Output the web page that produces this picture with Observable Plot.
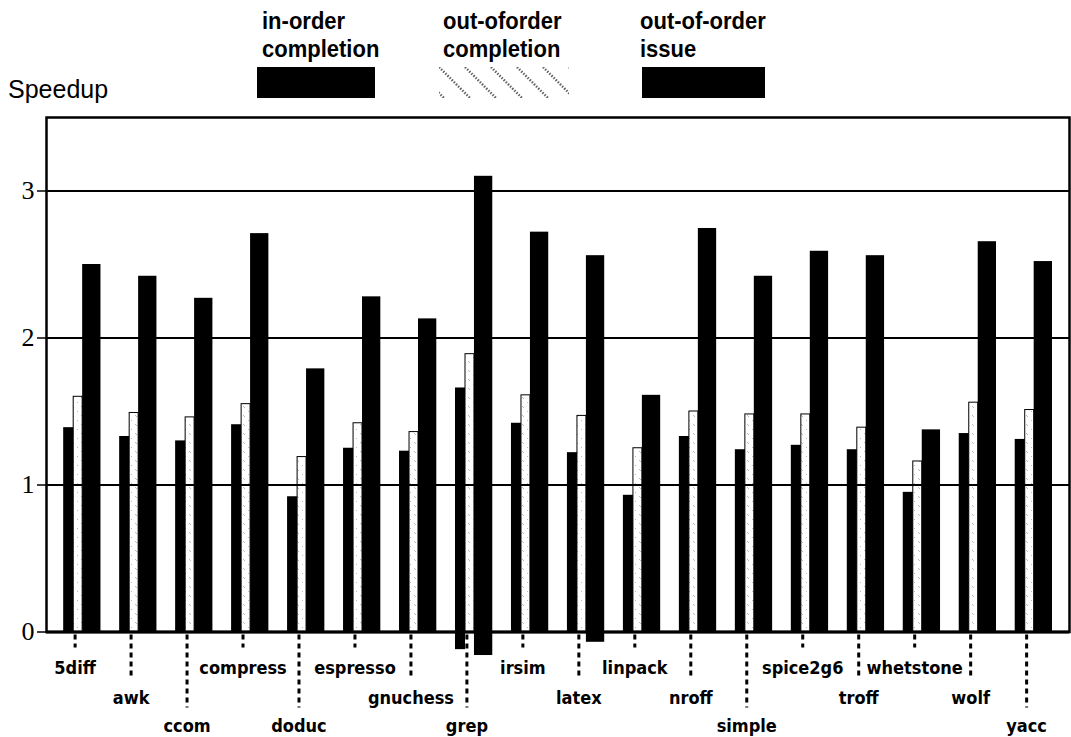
<!DOCTYPE html>
<html>
<head>
<meta charset="utf-8">
<script src="https://cdn.jsdelivr.net/npm/d3@7"></script>
<script src="https://cdn.jsdelivr.net/npm/@observablehq/plot@0.6"></script>
<style>
  html, body { margin: 0; padding: 0; background: white; }
  #wrap { position: relative; width: 1071px; height: 737px; overflow: hidden; }
  #header { position: relative; width: 1071px; height: 100px; font-family: "Liberation Sans", Arial, sans-serif; color: black; }
  .lab { position: absolute; font-weight: bold; font-size: 22px; line-height: 25px; white-space: nowrap; transform: scaleY(1.1); transform-origin: 0 0; }
  .sw { position: absolute; top: 67px; height: 31px; }
  #speedup { position: absolute; left: 8px; top: 77px; font-size: 25px; line-height: 24px; }
  #chart svg { display: block; }
</style>
</head>
<body>
<div id="wrap">
  <div id="header"></div>
  <div id="chart"></div>
</div>
<script>
// ---- data ----
const benchmarks = ["5diff","awk","ccom","compress","doduc","espresso","gnuchess","grep","irsim","latex","linpack","nroff","simple","spice2g6","troff","whetstone","wolf","yacc"];
const labelRow = [0,1,2,0,2,0,1,2,0,1,0,1,2,0,1,0,1,2];
const inOrderCompletion    = [1.39,1.33,1.30,1.41,0.92,1.25,1.23,1.66,1.42,1.22,0.93,1.33,1.24,1.27,1.24,0.95,1.35,1.31];
const outOfOrderCompletion = [1.60,1.49,1.46,1.55,1.19,1.42,1.36,1.89,1.61,1.47,1.25,1.50,1.48,1.48,1.39,1.16,1.56,1.51];
const outOfOrderIssue      = [2.50,2.42,2.27,2.71,1.79,2.28,2.13,3.10,2.72,2.56,1.61,2.745,2.42,2.59,2.56,1.375,2.655,2.52];
const seriesNames = ["in-order completion", "out-oforder completion", "out-of-order issue"];
const legendLines = [["in-order","completion"],["out-oforder","completion"],["out-of-order","issue"]];
// bars that run below the zero line in the scan
const belowZero = [["grep", 0, -0.12], ["grep", 2, -0.16], ["latex", 2, -0.07]];
const yTicks = [0, 1, 2, 3];
const yLabel = "Speedup";

// ---- table ----
const seriesValues = [inOrderCompletion, outOfOrderCompletion, outOfOrderIssue];
const bars = [];
benchmarks.forEach((name, i) => {
  seriesValues.forEach((vals, s) => {
    const b = belowZero.find(d => d[0] === name && d[1] === s);
    bars.push({name, i, s, value: vals[i], base: b ? b[2] : 0});
  });
});
const labels = benchmarks.map((name, i) => ({name, i, row: labelRow[i]}));

// slot offsets within a group (layout)
const slot = [[-0.334, -0.155], [-0.155, 0.005], [0.005, 0.332]];
const tickOffset = -0.13;
const rowStyle = [
  {dy: 42, inset: -16},
  {dy: 71.5, inset: -44},
  {dy: 99.5, inset: -76}
];

// ---- header (legend) ----
const header = document.getElementById("header");
const sp = document.createElement("div");
sp.id = "speedup"; sp.textContent = yLabel; header.appendChild(sp);
const legendPos = [
  {text: 262, sw: [257, 118]},
  {text: 443, sw: [439, 130]},
  {text: 640, sw: [642, 123]}
];
seriesNames.forEach((s, k) => {
  const t = document.createElement("div");
  t.className = "lab";
  t.style.left = legendPos[k].text + "px";
  t.style.top = "7px";
  t.innerHTML = legendLines[k].join("<br>");
  t.title = s;
  header.appendChild(t);
  const sw = document.createElement("div");
  sw.className = "sw";
  sw.style.left = legendPos[k].sw[0] + "px";
  sw.style.width = legendPos[k].sw[1] + "px";
  if (k === 1) {
    sw.innerHTML = `<svg width="${legendPos[k].sw[1]}" height="31"><defs><pattern id="lhatch" patternUnits="userSpaceOnUse" width="26" height="31"><path d="M0,0L31,31M-26,0L5,31M26,0L57,31" stroke="#666" stroke-width="2.5" stroke-dasharray="1.5,1.5"/></pattern></defs><rect width="100%" height="31" fill="url(#lhatch)"/></svg>`;
  } else {
    sw.style.background = "black";
  }
  header.appendChild(sw);
});

// ---- chart ----
const solid = bars.filter(d => d.s !== 1);
const hatched = bars.filter(d => d.s === 1);

const marks = [
  Plot.rectY(hatched, {x1: d => d.i + slot[1][0], x2: d => d.i + slot[1][1], y1: "base", y2: "value", fill: "url(#hatch)", stroke: "black", strokeWidth: 1}),
  Plot.ruleY([1, 2, 3], {stroke: "black", strokeWidth: 2}),
  Plot.rectY(solid, {x1: d => d.i + slot[d.s][0], x2: d => d.i + slot[d.s][1], y1: "base", y2: "value", fill: "black"}),
  Plot.ruleY([0], {stroke: "black", strokeWidth: 3}),
  Plot.frame({stroke: "black", strokeWidth: 2.5}),
  Plot.axisY({ticks: yTicks, tickSize: 9, tickPadding: 3, fontSize: 26, fontFamily: "Liberation Serif, Times New Roman, serif", label: null, tickFormat: d3.format("d"), strokeWidth: 1.5})
];
rowStyle.forEach((r, row) => {
  const sub = labels.filter(d => d.row === row);
  marks.push(Plot.ruleX(sub, {x: d => d.i + tickOffset, y1: () => 0, y2: () => 0, insetTop: 3, insetBottom: r.inset, stroke: "black", strokeWidth: 3, strokeDasharray: "5,4"}));
  marks.push(Plot.text(sub, {x: d => d.i + tickOffset, y: () => 0, text: "name", dy: r.dy, lineAnchor: "bottom", textAnchor: "middle", fontSize: 18, fontWeight: "bold", fontFamily: "DejaVu Sans Condensed, DejaVu Sans, sans-serif", fontStretch: "condensed", fill: "black"}));
});

const chart = Plot.plot({
  width: 1071,
  height: 637,
  marginLeft: 46,
  marginRight: 2,
  marginTop: 17,
  marginBottom: 105.5,
  x: {domain: [-0.641, 17.636], axis: null},
  y: {domain: [0, 3.5], axis: null},
  style: {background: "white", color: "black", overflow: "visible"},
  marks
});

// hatch pattern for the out-of-order completion bars
const defs = d3.select(chart).insert("defs", ":first-child");
const pat = defs.append("pattern").attr("id", "hatch").attr("patternUnits", "userSpaceOnUse").attr("width", 9).attr("height", 9);
pat.append("rect").attr("width", 9).attr("height", 9).attr("fill", "white");
pat.append("path").attr("d", "M0,0L2,2M5,5L6,6").attr("stroke", "#bbb").attr("stroke-width", 1);

document.getElementById("chart").appendChild(chart);
</script>
</body>
</html>
